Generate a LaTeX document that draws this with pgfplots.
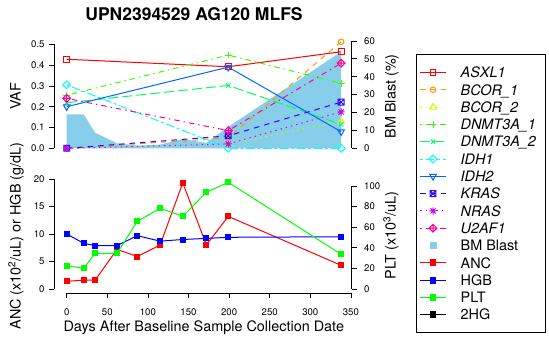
\documentclass[border=0pt]{standalone}
\usepackage{pgfplots}
\pgfplotsset{compat=1.18}
\usepackage{fontspec}
\setmainfont{TeX Gyre Heros}

\definecolor{cASXL}{HTML}{FF0000}
\definecolor{cBCa}{HTML}{FF9900}
\definecolor{cBCb}{HTML}{CCFF00}
\definecolor{cDNa}{HTML}{33FF00}
\definecolor{cDNb}{HTML}{00FF66}
\definecolor{cIDHa}{HTML}{00FFFF}
\definecolor{cIDHb}{HTML}{0066FF}
\definecolor{cKRAS}{HTML}{3300FF}
\definecolor{cNRAS}{HTML}{CC00FF}
\definecolor{cUAF}{HTML}{FF0099}
\definecolor{skyblue}{HTML}{87CEEB}
\definecolor{rgreen}{HTML}{00FF00}

\pgfdeclareplotmark{squarex}{%
  \pgfpathrectangle{\pgfpoint{-\pgfplotmarksize}{-\pgfplotmarksize}}{\pgfpoint{2\pgfplotmarksize}{2\pgfplotmarksize}}%
  \pgfpathmoveto{\pgfpoint{-\pgfplotmarksize}{-\pgfplotmarksize}}%
  \pgfpathlineto{\pgfpoint{\pgfplotmarksize}{\pgfplotmarksize}}%
  \pgfpathmoveto{\pgfpoint{-\pgfplotmarksize}{\pgfplotmarksize}}%
  \pgfpathlineto{\pgfpoint{\pgfplotmarksize}{-\pgfplotmarksize}}%
  \pgfusepathqstroke}
\pgfdeclareplotmark{rdiamond}{%
  \pgfpathmoveto{\pgfpoint{0pt}{1.35\pgfplotmarksize}}%
  \pgfpathlineto{\pgfpoint{1.35\pgfplotmarksize}{0pt}}%
  \pgfpathlineto{\pgfpoint{0pt}{-1.35\pgfplotmarksize}}%
  \pgfpathlineto{\pgfpoint{-1.35\pgfplotmarksize}{0pt}}%
  \pgfpathclose\pgfusepathqstroke}
\pgfdeclareplotmark{diamondplus}{%
  \pgfpathmoveto{\pgfpoint{0pt}{1.35\pgfplotmarksize}}%
  \pgfpathlineto{\pgfpoint{1.35\pgfplotmarksize}{0pt}}%
  \pgfpathlineto{\pgfpoint{0pt}{-1.35\pgfplotmarksize}}%
  \pgfpathlineto{\pgfpoint{-1.35\pgfplotmarksize}{0pt}}%
  \pgfpathclose
  \pgfpathmoveto{\pgfpoint{0pt}{1.35\pgfplotmarksize}}%
  \pgfpathlineto{\pgfpoint{0pt}{-1.35\pgfplotmarksize}}%
  \pgfpathmoveto{\pgfpoint{-1.35\pgfplotmarksize}{0pt}}%
  \pgfpathlineto{\pgfpoint{1.35\pgfplotmarksize}{0pt}}%
  \pgfusepathqstroke}
\pgfdeclareplotmark{rstar}{%
  \pgfpathmoveto{\pgfpoint{0pt}{1.2\pgfplotmarksize}}%
  \pgfpathlineto{\pgfpoint{0pt}{-1.2\pgfplotmarksize}}%
  \pgfpathmoveto{\pgfpoint{-1.2\pgfplotmarksize}{0pt}}%
  \pgfpathlineto{\pgfpoint{1.2\pgfplotmarksize}{0pt}}%
  \pgfpathmoveto{\pgfpoint{-.85\pgfplotmarksize}{-.85\pgfplotmarksize}}%
  \pgfpathlineto{\pgfpoint{.85\pgfplotmarksize}{.85\pgfplotmarksize}}%
  \pgfpathmoveto{\pgfpoint{-.85\pgfplotmarksize}{.85\pgfplotmarksize}}%
  \pgfpathlineto{\pgfpoint{.85\pgfplotmarksize}{-.85\pgfplotmarksize}}%
  \pgfusepathqstroke}

\pgfplotsset{
  panel/.style={scale only axis, width=297.6pt, xmin=-15.5, xmax=351, clip=false,
    axis line style={draw=none},
    tick align=outside, major tick length=5pt,
    tick style={black, line width=0.75pt},
    tick label style={font=\fontsize{9.6}{10}\selectfont, black},
    /pgf/number format/assume math mode=true},
  leftlab/.style={yticklabel style={xshift=-1pt}},
  rightlab/.style={yticklabel style={xshift=4pt}},
}

\pgfplotstableread{
day blast
0   19
21  19
35  8.7
62  2.8
87  1.5
115 2.0
143 5.2
172 3.0
199 12
338 54
}\blasttab

\pgfplotstableread{
day ANC HGB PLT
0   1.4  10.0 22.6
21  1.6  8.3  20.1
35  1.6  7.9  34.6
62  7.2  7.9  34.6
87  5.9  9.7  65.7
115 8.0  8.7  78.3
143 19.3 9.0  70.6
172 8.0  9.2  93.9
199 13.2 9.4  103.6
338 4.3  9.5  33.7
}\bloodtab

\begin{document}
\begin{tikzpicture}
\path (0pt,0pt) rectangle (549pt,347pt);

% ---------- top panel: BM blast (right axis) ----------
\begin{axis}[panel, rightlab, at={(54.1pt,194.5pt)}, anchor=south west, height=112.4pt,
  ymin=-2.35, ymax=60.5, axis x line=none, axis y line*=right,
  axis line style={draw=none},
  ytick={0,10,20,30,40,50,60}]
\addplot[fill=skyblue, draw=none] table[x=day, y=blast] {\blasttab} \closedcycle;
\draw[line width=0.75pt] (axis cs:351,0) -- (axis cs:351,60);
\end{axis}

% ---------- top panel: VAF (left axis) ----------
\begin{axis}[panel, leftlab, at={(54.1pt,194.5pt)}, anchor=south west, height=112.4pt,
  ymin=-0.02, ymax=0.52, axis x line=none, axis y line*=left,
  axis line style={draw=none},
  ytick={0,0.1,0.2,0.3,0.4,0.5},
  yticklabel style={/pgf/number format/.cd, fixed, fixed zerofill, precision=1},
  legend image code/.code={\draw[mark repeat=2,mark phase=2,#1] plot coordinates {(0pt,0pt) (12.85pt,0pt) (25.7pt,0pt)};},
  legend style={at={(axis description cs:1.2151,0.8737)}, anchor=north west,
    draw=black, line width=0.75pt, fill=white, inner xsep=3.6pt, inner ysep=9.2pt,
    column sep=14.3pt, row sep=0pt,
    font=\fontsize{14.4}{14.4}\selectfont,
    nodes={inner xsep=0pt, inner ysep=3.45pt, text height=10.4pt, text depth=0pt}},
  legend cell align=left]
\addplot[cASXL, line width=1pt, solid, mark=square, mark size=2.9pt, mark options={solid, line width=1pt}]
  coordinates {(0,0.428) (199,0.392) (338,0.464)};
\addlegendentry{\textit{ASXL1}}
\addplot[cBCa, line width=1pt, dash pattern=on 5.5pt off 5pt, mark=o, mark size=2.8pt, mark options={solid, line width=1pt}]
  coordinates {(0,0) (199,0.05) (338,0.512)};
\addlegendentry{\textit{BCOR\_1}}
\addplot[cBCb, line width=1pt, dash pattern=on 1.4pt off 4pt, mark=triangle, mark size=3.8pt, mark options={solid, line width=1pt}]
  coordinates {(0,0) (199,0.02) (338,0.13)};
\addlegendentry{\textit{BCOR\_2}}
\addplot[cDNa, line width=1pt, dash pattern=on 1.4pt off 4pt on 5.5pt off 4pt, mark=+, mark size=3.4pt, mark options={solid, line width=1pt}]
  coordinates {(0,0.255) (199,0.448) (338,0.3125)};
\addlegendentry{\textit{DNMT3A\_1}\hspace*{6.3pt}}
\addplot[cDNb, line width=1pt, dash pattern=on 10pt off 4pt, mark=x, mark size=3.1pt, mark options={solid, line width=1pt}]
  coordinates {(0,0.219) (199,0.302) (338,0.115)};
\addlegendentry{\textit{DNMT3A\_2}}
\addplot[cIDHa, line width=1pt, dash pattern=on 2.8pt off 2.8pt on 8.5pt off 2.8pt, mark=rdiamond, mark size=2.9pt, mark options={solid, line width=1pt}]
  coordinates {(0,0.305) (199,0) (338,0)};
\addlegendentry{\textit{IDH1}}
\addplot[cIDHb, line width=1pt, solid, mark=triangle, mark size=3.8pt, mark options={solid, line width=1pt, rotate=180}]
  coordinates {(0,0.2) (199,0.39) (338,0.08)};
\addlegendentry{\textit{IDH2}}
\addplot[cKRAS, line width=1pt, dash pattern=on 5.5pt off 5pt, mark=squarex, mark size=2.9pt, mark options={solid, line width=1pt}]
  coordinates {(0,0) (199,0.06) (338,0.222)};
\addlegendentry{\textit{KRAS}}
\addplot[cNRAS, line width=1pt, dash pattern=on 1.4pt off 4pt, mark=rstar, mark size=3pt, mark options={solid, line width=1pt}]
  coordinates {(0,0) (199,0.021) (338,0.175)};
\addlegendentry{\textit{NRAS}}
\addplot[cUAF, line width=1pt, dash pattern=on 1.4pt off 4pt on 5.5pt off 4pt, mark=diamondplus, mark size=2.9pt, mark options={solid, line width=1pt}]
  coordinates {(0,0.24) (199,0.085) (338,0.409)};
\addlegendentry{\textit{U2AF1}}
\addlegendimage{legend image code/.code={\fill[skyblue] (9.85pt,-3pt) rectangle (15.85pt,3pt);}}
\addlegendentry{BM Blast}
\addlegendimage{red, line width=1pt, mark=square*, mark size=2.9pt}
\addlegendentry{ANC}
\addlegendimage{blue, line width=1pt, mark=square*, mark size=2.9pt}
\addlegendentry{HGB}
\addlegendimage{rgreen, line width=1pt, mark=square*, mark size=2.9pt}
\addlegendentry{PLT}
\addlegendimage{black, line width=1pt, mark=square*, mark size=2.9pt}
\addlegendentry{2HG}
\draw[line width=0.75pt] (axis cs:-15.5,0) -- (axis cs:-15.5,0.5);
\end{axis}

% ---------- bottom panel: ANC / HGB (left axis) ----------
\begin{axis}[panel, leftlab, at={(54.1pt,53.7pt)}, anchor=south west, height=115.4pt,
  ymin=-0.78, ymax=20.2, axis x line*=bottom, axis y line*=left,
  axis line style={draw=none},
  xtick={0,50,100,150,200,250,300,350}, ytick={0,5,10,15,20},
  xticklabel style={yshift=-7pt}]
\addplot[red, line width=1pt, mark=square*, mark size=2.5pt] table[x=day, y=ANC] {\bloodtab};
\addplot[blue, line width=1pt, mark=square*, mark size=2.5pt] table[x=day, y=HGB] {\bloodtab};
\draw[line width=0.75pt] (axis cs:-15.5,0) -- (axis cs:-15.5,20);
\draw[line width=0.75pt] (axis cs:0,-0.78) -- (axis cs:350,-0.78);
\end{axis}

% ---------- bottom panel: PLT (right axis) ----------
\begin{axis}[panel, rightlab, at={(54.1pt,53.7pt)}, anchor=south west, height=115.4pt,
  ymin=-4.15, ymax=107.85, axis x line=none, axis y line*=right,
  axis line style={draw=none},
  ytick={0,20,40,60,80,100}]
\addplot[rgreen, line width=1pt, mark=square*, mark size=2.5pt] table[x=day, y=PLT] {\bloodtab};
\draw[line width=0.75pt] (axis cs:351,0) -- (axis cs:351,100);
\end{axis}

% ---------- titles ----------
\node[anchor=base, font=\bfseries\fontsize{17.5}{18}\selectfont] at (194pt,326.3pt) {UPN2394529 AG120 MLFS};
\node[anchor=base, font=\fontsize{14.4}{15}\selectfont] at (203.8pt,15.3pt) {Days After Baseline Sample Collection Date};
\node[rotate=90, anchor=base, font=\fontsize{14.4}{15}\selectfont] at (20.7pt,250.7pt) {VAF};
\node[rotate=90, anchor=base, font=\fontsize{14.4}{15}\selectfont] at (20.7pt,111pt) {ANC (x10\textsuperscript{2}/uL) or HGB (g/dL)};
\node[rotate=90, anchor=base, font=\fontsize{14.4}{15}\selectfont] at (395.5pt,250.7pt) {BM Blast (\%)};
\node[rotate=90, anchor=base, font=\fontsize{14.4}{15}\selectfont] at (395.5pt,111.4pt) {PLT (x10\textsuperscript{3}/uL)};
\end{tikzpicture}
\end{document}
